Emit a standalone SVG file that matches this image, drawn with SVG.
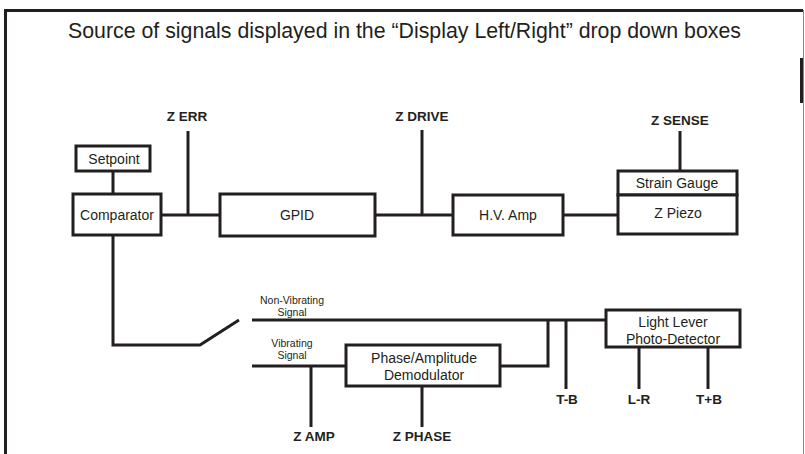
<svg xmlns="http://www.w3.org/2000/svg" width="805" height="454" viewBox="0 0 805 454">
<style>
.box{fill:#fff;stroke:#231f20;stroke-width:3}
.ln{fill:none;stroke:#231f20;stroke-width:3}
.t{font-family:"Liberation Sans",Arial,sans-serif;fill:#231f20;text-anchor:middle}
.lbl{font-size:14px}
.sig{font-size:13.5px;font-weight:bold}
.sm{font-size:10.5px}
</style>
<rect width="805" height="454" fill="#fff"/>
<g id="frame">
<path d="M5.5 454 V10.5 H803" fill="none" stroke="#231f20" stroke-width="3"/>
<path d="M803.5 10 V454" fill="none" stroke="#888" stroke-width="1"/>
<path d="M801.5 58 V103" fill="none" stroke="#231f20" stroke-width="3"/>
</g>
<text class="t" x="404.5" y="38" font-size="22" textLength="673" lengthAdjust="spacingAndGlyphs">Source of signals displayed in the “Display Left/Right” drop down boxes</text>
<g id="connectors">
<path class="ln" d="M113 171 V194"/>
<path class="ln" d="M161 215 H220"/>
<path class="ln" d="M188 131 V215"/>
<path class="ln" d="M375 215 H453"/>
<path class="ln" d="M422 130 V215"/>
<path class="ln" d="M563 215 H618"/>
<path class="ln" d="M680 131 V171"/>
<path class="ln" d="M113 235 V345 H200 L239 320"/>
<path class="ln" d="M252 320 H606"/>
<path class="ln" d="M252 366 H346"/>
<path class="ln" d="M500 366 H548 V320"/>
<path class="ln" d="M566 320 V389"/>
<path class="ln" d="M639 347 V389"/>
<path class="ln" d="M708 347 V389"/>
<path class="ln" d="M311 366 V427"/>
<path class="ln" d="M422 386 V427"/>
</g>
<g id="setpoint"><rect class="box" x="76" y="146" width="74" height="25"/><text class="t lbl" x="114" y="164">Setpoint</text></g>
<g id="comparator"><rect class="box" x="73" y="194" width="88" height="41"/><text class="t lbl" x="117" y="220">Comparator</text></g>
<g id="gpid"><rect class="box" x="220" y="194" width="155" height="42"/><text class="t lbl" x="297" y="220">GPID</text></g>
<g id="hvamp"><rect class="box" x="453" y="195" width="110" height="40"/><text class="t lbl" x="508" y="220">H.V. Amp</text></g>
<g id="straingauge"><rect class="box" x="618" y="171" width="119" height="24"/><text class="t lbl" x="677" y="188">Strain Gauge</text></g>
<g id="zpiezo"><rect class="box" x="618" y="195" width="119" height="39"/><text class="t lbl" x="678" y="218">Z Piezo</text></g>
<g id="lightlever"><rect class="box" x="606" y="310" width="134" height="37"/><text class="t lbl" x="673" y="327">Light Lever</text><text class="t lbl" x="673" y="344">Photo-Detector</text></g>
<g id="demod"><rect class="box" x="346" y="345" width="154" height="41"/><text class="t lbl" x="424" y="363">Phase/Amplitude</text><text class="t lbl" x="424" y="380">Demodulator</text></g>
<g id="labels">
<text class="t sig" x="187" y="121">Z ERR</text>
<text class="t sig" x="422" y="121">Z DRIVE</text>
<text class="t sig" x="680" y="125">Z SENSE</text>
<text class="t sig" x="567" y="404">T-B</text>
<text class="t sig" x="639" y="404">L-R</text>
<text class="t sig" x="709" y="404">T+B</text>
<text class="t sig" x="314" y="441">Z AMP</text>
<text class="t sig" x="422" y="441">Z PHASE</text>
<text class="t sm" x="292" y="304">Non-Vibrating</text>
<text class="t sm" x="292" y="316">Signal</text>
<text class="t sm" x="292" y="347">Vibrating</text>
<text class="t sm" x="292" y="359">Signal</text>
</g>
</svg>
